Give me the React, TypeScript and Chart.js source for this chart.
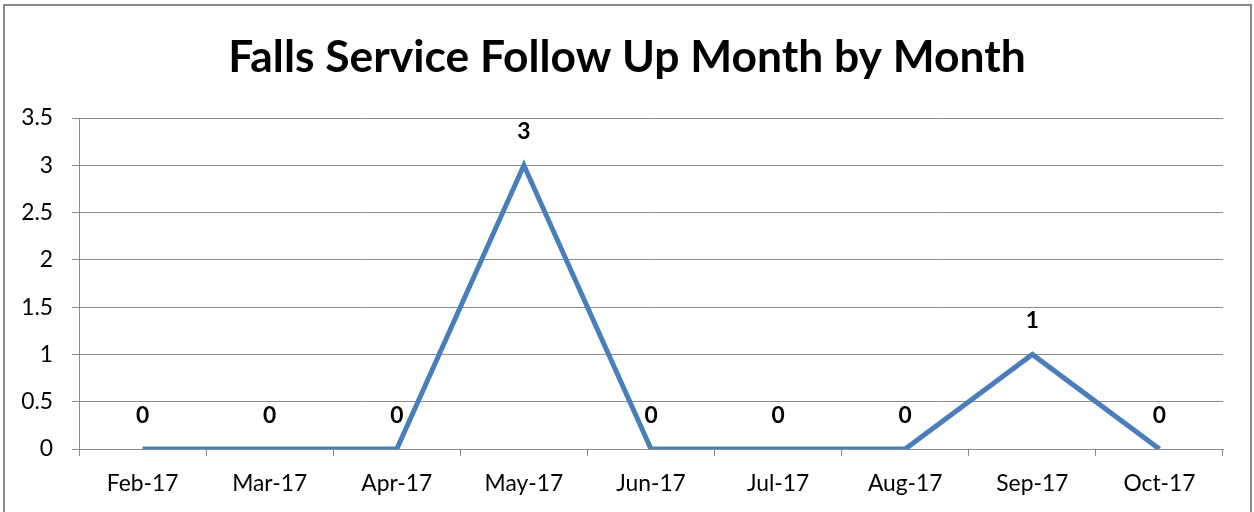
import React, { useEffect, useRef } from "react";
import { Chart, registerables } from "chart.js";

Chart.register(...registerables);

const chartTitle = "Falls Service Follow Up Month by Month";
const categories = ["Feb-17", "Mar-17", "Apr-17", "May-17", "Jun-17", "Jul-17", "Aug-17", "Sep-17", "Oct-17"];
const followUps = [0, 0, 0, 3, 0, 0, 0, 1, 0];
const yMin = 0;
const yMax = 3.5;
const yStep = 0.5;

const FONT = "Lato, 'Open Sans', sans-serif";
const GRID = "#898989";
const LINE = "#4A7EBB";

function fitSize(text: string, weight: string, target: number): number {
  const ctx = document.createElement("canvas").getContext("2d")!;
  ctx.font = `${weight} 100px ${FONT}`;
  const w = ctx.measureText(text).width;
  return (100 * target) / w;
}

const dataLabels = {
  id: "dataLabels",
  afterDatasetsDraw(chart: any, _args: any, opts: any) {
    const ctx = chart.ctx;
    const meta = chart.getDatasetMeta(0);
    ctx.save();
    ctx.font = `bold ${opts.size}px ${FONT}`;
    ctx.fillStyle = "#000";
    ctx.textAlign = "center";
    ctx.textBaseline = "alphabetic";
    meta.data.forEach((pt: any, i: number) => {
      const v = chart.data.datasets[0].data[i];
      ctx.fillText(String(v), pt.x, pt.y - 26);
    });
    ctx.restore();
  },
};

const chartHeading = {
  id: "chartHeading",
  afterDraw(chart: any, _args: any, opts: any) {
    const ctx = chart.ctx;
    ctx.save();
    ctx.font = `bold ${opts.size}px ${FONT}`;
    ctx.fillStyle = "#000";
    ctx.textAlign = "center";
    ctx.textBaseline = "alphabetic";
    ctx.fillText(opts.text, chart.width / 2, 72);
    ctx.restore();
  },
};

export default function App() {
  const ref = useRef<HTMLCanvasElement>(null);

  useEffect(() => {
    const titleSize = fitSize(chartTitle, "bold", 798);
    const tickSize = fitSize("Feb-17", "normal", 71.7);

    const chart = new Chart(ref.current!, {
      type: "line",
      data: {
        labels: categories,
        datasets: [
          {
            data: followUps,
            borderColor: LINE,
            backgroundColor: LINE,
            borderWidth: 5,
            pointRadius: 0,
            pointHoverRadius: 0,
            tension: 0,
            fill: false,
          },
        ],
      },
      plugins: [dataLabels, chartHeading],
      options: {
        responsive: false,
        animation: false,
        layout: { padding: { top: 118, left: 0, right: 31, bottom: 0 } },
        plugins: {
          legend: { display: false },
          tooltip: { enabled: false },
          title: { display: false },
          chartHeading: { text: chartTitle, size: titleSize },
          dataLabels: { size: tickSize },
        } as any,
        scales: {
          x: {
            offset: true,
            grid: {
              offset: true,
              drawOnChartArea: false,
              drawTicks: true,
              tickLength: 7,
              color: GRID,
              lineWidth: 1,
            },
            border: { display: true, color: GRID, width: 1 },
            ticks: {
              color: "#000",
              padding: 14,
              maxRotation: 0,
              autoSkip: false,
              font: { family: FONT, size: tickSize },
            },
            afterFit(scale: any) {
              scale.height = 63;
            },
          },
          y: {
            min: yMin,
            max: yMax,
            grid: {
              color: GRID,
              lineWidth: 1,
              drawTicks: true,
              tickLength: 7,
            },
            border: { display: true, color: GRID, width: 1 },
            ticks: {
              stepSize: yStep,
              color: "#000",
              padding: 19,
              font: { family: FONT, size: tickSize },
              callback: (v: any) => String(Number(v)),
            },
            afterFit(scale: any) {
              scale.width = 79;
            },
          },
        },
      },
    });
    return () => chart.destroy();
  }, []);

  return (
    <div
      style={{
        position: "fixed",
        left: 0,
        top: 0,
        width: 1254,
        height: 512,
        overflow: "hidden",
        background: "#fff",
      }}
    >
      <div
        style={{
          position: "absolute",
          left: 3,
          top: 4,
          width: 1249,
          height: 508,
          boxSizing: "border-box",
          border: `2px solid ${GRID}`,
          borderBottom: "none",
        }}
      />
      <canvas
        ref={ref}
        width={1254}
        height={512}
        style={{ position: "absolute", left: 0, top: 0, width: 1254, height: 512 }}
      />
    </div>
  );
}
